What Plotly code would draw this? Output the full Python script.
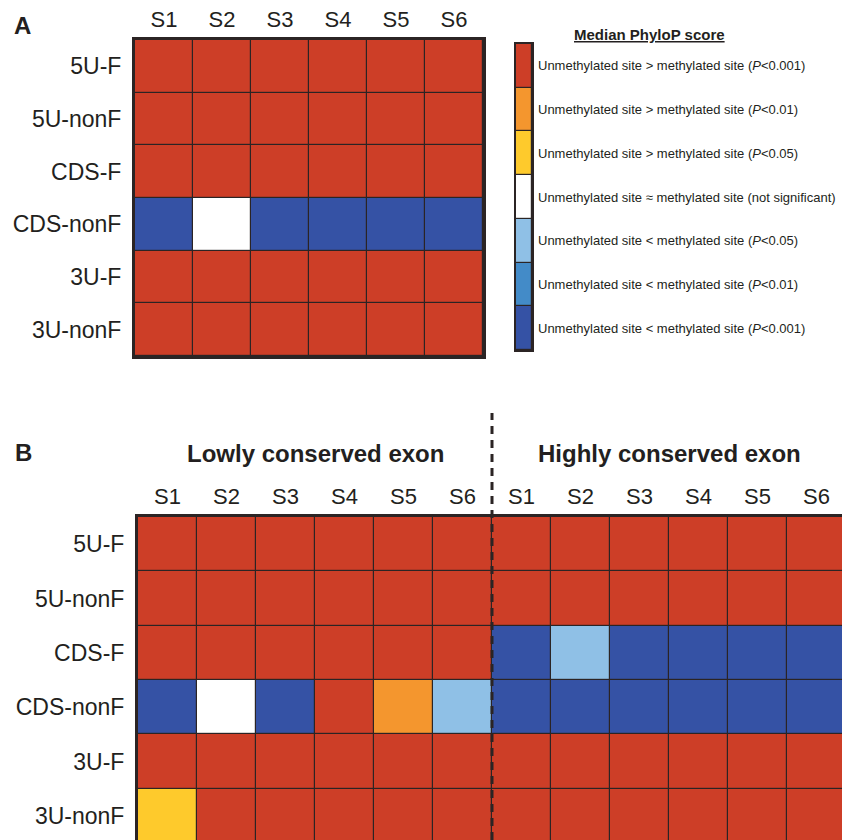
import plotly.graph_objects as go

# ---------------- data ----------------
categories = [
    "Unmethylated site > methylated site (<i>P</i>&lt;0.001)",
    "Unmethylated site > methylated site (<i>P</i>&lt;0.01)",
    "Unmethylated site > methylated site (<i>P</i>&lt;0.05)",
    "Unmethylated site ≈ methylated site (not significant)",
    "Unmethylated site &lt; methylated site (<i>P</i>&lt;0.05)",
    "Unmethylated site &lt; methylated site (<i>P</i>&lt;0.01)",
    "Unmethylated site &lt; methylated site (<i>P</i>&lt;0.001)",
]
cat_colors = ["#CD3E27", "#F4962E", "#FECA2C", "#FFFFFF", "#8FC0E6", "#438BC8", "#3552A5"]

rows = ["5U-F", "5U-nonF", "CDS-F", "CDS-nonF", "3U-F", "3U-nonF"]
samples = ["S1", "S2", "S3", "S4", "S5", "S6"]
groups_b = ["Lowly conserved exon", "Highly conserved exon"]

# panel A: category index per (region, sample)
panel_a = [
    [0, 0, 0, 0, 0, 0],
    [0, 0, 0, 0, 0, 0],
    [0, 0, 0, 0, 0, 0],
    [6, 3, 6, 6, 6, 6],
    [0, 0, 0, 0, 0, 0],
    [0, 0, 0, 0, 0, 0],
]
# panel B: lowly conserved S1-S6 then highly conserved S1-S6
panel_b = [
    [0, 0, 0, 0, 0, 0, 0, 0, 0, 0, 0, 0],
    [0, 0, 0, 0, 0, 0, 0, 0, 0, 0, 0, 0],
    [0, 0, 0, 0, 0, 0, 6, 4, 6, 6, 6, 6],
    [6, 3, 6, 0, 1, 4, 6, 6, 6, 6, 6, 6],
    [0, 0, 0, 0, 0, 0, 0, 0, 0, 0, 0, 0],
    [2, 0, 0, 0, 0, 0, 0, 0, 0, 0, 0, 0],
]

# ---------------- styling ----------------
W, H = 842, 840
FONT = "Liberation Sans, Arial, sans-serif"
TXT = "#231f20"
GRID = "#2b2424"

n = len(cat_colors)
cscale = []
for i, c in enumerate(cat_colors):
    cscale.append([i / n, c])
    cscale.append([(i + 1) / n, c])

def px_x(p):
    return p / W

def px_y(p):
    return 1 - p / H

fig = go.Figure()

common = dict(colorscale=cscale, zmin=-0.5, zmax=n - 0.5, showscale=False,
              xgap=1.2, ygap=1.2, hoverinfo="skip")

fig.add_trace(go.Heatmap(z=panel_a, x=list(range(len(samples))), y=list(range(len(rows))),
                         xaxis="x", yaxis="y", **common))
fig.add_trace(go.Heatmap(z=panel_b, x=list(range(2 * len(samples))), y=list(range(len(rows))),
                         xaxis="x3", yaxis="y3", **common))
fig.add_trace(go.Heatmap(z=[[i] for i in range(n)], x=[0], y=list(range(n)),
                         xaxis="x2", yaxis="y2", **common))

# panel B geometry (last column / row cropped by figure edge)
b_left, b_right_cell_edge = 138, 846
b_top, b_bottom_cell_edge = 517, 843
cw = (b_right_cell_edge - b_left) / 12
ch = (b_bottom_cell_edge - b_top) / 6

tickfont = dict(family=FONT, size=22, color=TXT)
rowfont = dict(family=FONT, size=23, color=TXT)

fig.update_layout(
    width=W, height=H, margin=dict(l=0, r=0, t=0, b=0),
    paper_bgcolor="white", plot_bgcolor=GRID,
    xaxis=dict(domain=[px_x(135), px_x(483)], anchor="y", side="top",
               range=[-0.5, 5.5], tickvals=list(range(6)), ticktext=samples,
               ticks="", showgrid=False, zeroline=False, tickfont=tickfont,
               showline=True, linewidth=3, linecolor=GRID, mirror=True,
               ticklabelstandoff=1, fixedrange=True),
    yaxis=dict(domain=[px_y(356), px_y(40)], anchor="x",
               range=[5.5, -0.5], tickvals=list(range(6)), ticktext=rows,
               ticks="", showgrid=False, zeroline=False, tickfont=rowfont,
               showline=True, linewidth=3, linecolor=GRID, mirror=True,
               ticklabelstandoff=6, fixedrange=True),
    xaxis2=dict(domain=[px_x(516), px_x(532)], anchor="y2", range=[-0.5, 0.5],
                showticklabels=False, ticks="", showgrid=False, zeroline=False,
                showline=True, linewidth=1.5, linecolor=GRID, mirror=True),
    yaxis2=dict(domain=[px_y(350), px_y(44)], anchor="x2", range=[n - 0.5, -0.5],
                showticklabels=False, ticks="", showgrid=False, zeroline=False,
                showline=True, linewidth=1.5, linecolor=GRID, mirror=True),
    xaxis3=dict(domain=[px_x(b_left), 1], anchor="y3", side="top",
                range=[-0.5, -0.5 + (W - b_left) / cw],
                tickvals=list(range(12)), ticktext=samples + samples,
                ticks="", showgrid=False, zeroline=False, tickfont=tickfont,
                showline=True, linewidth=3, linecolor=GRID, mirror=False,
                ticklabelstandoff=1),
    yaxis3=dict(domain=[0, px_y(b_top)], anchor="x3",
                range=[-0.5 + (H - b_top) / ch, -0.5],
                tickvals=list(range(6)), ticktext=rows,
                ticks="", showgrid=False, zeroline=False, tickfont=rowfont,
                showline=True, linewidth=3, linecolor=GRID, mirror=False,
                ticklabelstandoff=6),
)

ann = []
# legend labels
for i, lab in enumerate(categories):
    ann.append(dict(text=lab, xref="paper", x=px_x(536), xanchor="left",
                    yref="y2", y=i, yanchor="middle", showarrow=False,
                    font=dict(family=FONT, size=13, color=TXT)))
ann.append(dict(text="<b><u>Median PhyloP score</u></b>", xref="paper", x=px_x(649),
                xanchor="center", yref="paper", y=px_y(35), yanchor="middle",
                showarrow=False, font=dict(family=FONT, size=15, color=TXT)))
# panel letters
ann.append(dict(text="<b>A</b>", xref="paper", x=px_x(12), xanchor="left",
                yref="paper", y=px_y(25), yanchor="middle", showarrow=False,
                font=dict(family=FONT, size=24, color=TXT)))
ann.append(dict(text="<b>B</b>", xref="paper", x=px_x(13), xanchor="left",
                yref="paper", y=px_y(452), yanchor="middle", showarrow=False,
                font=dict(family=FONT, size=24, color=TXT)))
# group titles in panel B
for gi, g in enumerate(groups_b):
    ann.append(dict(text=f"<b>{g}</b>", xref="x3", x=gi * 6 + 2.5, xanchor="center",
                    yref="paper", y=px_y(453), yanchor="middle", showarrow=False,
                    font=dict(family=FONT, size=24, color=TXT)))
fig.update_layout(annotations=ann)

# dashed divider between the two exon groups
fig.add_shape(type="line", xref="x3", x0=5.5, x1=5.5, yref="paper",
              y0=0, y1=px_y(413), line=dict(color=GRID, width=3, dash="8px,6px"))

fig.write_html("out.html")
